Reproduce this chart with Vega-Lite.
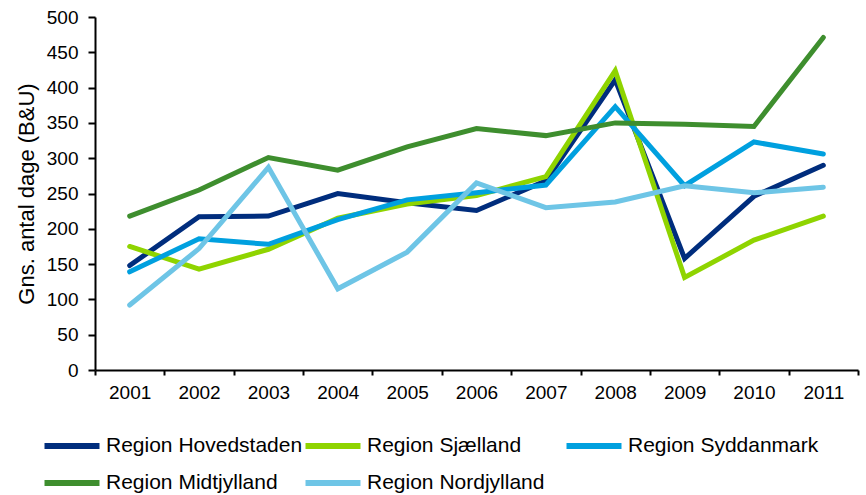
{
  "$schema": "https://vega.github.io/schema/vega-lite/v6.json",
  "width": 763,
  "height": 353,
  "autosize": "none",
  "padding": {"left": 95, "top": 17, "right": 8, "bottom": 125},
  "background": "white",
  "config": {
    "font": "Liberation Sans",
    "view": {"stroke": null}
  },
  "data": {
    "values": [
      {"year": "2001", "region": "Region Hovedstaden", "value": 148},
      {"year": "2002", "region": "Region Hovedstaden", "value": 217},
      {"year": "2003", "region": "Region Hovedstaden", "value": 218},
      {"year": "2004", "region": "Region Hovedstaden", "value": 250},
      {"year": "2005", "region": "Region Hovedstaden", "value": 237},
      {"year": "2006", "region": "Region Hovedstaden", "value": 226},
      {"year": "2007", "region": "Region Hovedstaden", "value": 268},
      {"year": "2008", "region": "Region Hovedstaden", "value": 411},
      {"year": "2009", "region": "Region Hovedstaden", "value": 158},
      {"year": "2010", "region": "Region Hovedstaden", "value": 246},
      {"year": "2011", "region": "Region Hovedstaden", "value": 290},
      {"year": "2001", "region": "Region Sjælland", "value": 175},
      {"year": "2002", "region": "Region Sjælland", "value": 143},
      {"year": "2003", "region": "Region Sjælland", "value": 171},
      {"year": "2004", "region": "Region Sjælland", "value": 215},
      {"year": "2005", "region": "Region Sjælland", "value": 235},
      {"year": "2006", "region": "Region Sjælland", "value": 247},
      {"year": "2007", "region": "Region Sjælland", "value": 274},
      {"year": "2008", "region": "Region Sjælland", "value": 424},
      {"year": "2009", "region": "Region Sjælland", "value": 131},
      {"year": "2010", "region": "Region Sjælland", "value": 184},
      {"year": "2011", "region": "Region Sjælland", "value": 218},
      {"year": "2001", "region": "Region Syddanmark", "value": 139},
      {"year": "2002", "region": "Region Syddanmark", "value": 186},
      {"year": "2003", "region": "Region Syddanmark", "value": 178},
      {"year": "2004", "region": "Region Syddanmark", "value": 213},
      {"year": "2005", "region": "Region Syddanmark", "value": 241},
      {"year": "2006", "region": "Region Syddanmark", "value": 251},
      {"year": "2007", "region": "Region Syddanmark", "value": 262},
      {"year": "2008", "region": "Region Syddanmark", "value": 373},
      {"year": "2009", "region": "Region Syddanmark", "value": 261},
      {"year": "2010", "region": "Region Syddanmark", "value": 323},
      {"year": "2011", "region": "Region Syddanmark", "value": 306},
      {"year": "2001", "region": "Region Midtjylland", "value": 218},
      {"year": "2002", "region": "Region Midtjylland", "value": 255},
      {"year": "2003", "region": "Region Midtjylland", "value": 301},
      {"year": "2004", "region": "Region Midtjylland", "value": 283},
      {"year": "2005", "region": "Region Midtjylland", "value": 316},
      {"year": "2006", "region": "Region Midtjylland", "value": 342},
      {"year": "2007", "region": "Region Midtjylland", "value": 332},
      {"year": "2008", "region": "Region Midtjylland", "value": 350},
      {"year": "2009", "region": "Region Midtjylland", "value": 348},
      {"year": "2010", "region": "Region Midtjylland", "value": 345},
      {"year": "2011", "region": "Region Midtjylland", "value": 471},
      {"year": "2001", "region": "Region Nordjylland", "value": 92},
      {"year": "2002", "region": "Region Nordjylland", "value": 172},
      {"year": "2003", "region": "Region Nordjylland", "value": 287},
      {"year": "2004", "region": "Region Nordjylland", "value": 115},
      {"year": "2005", "region": "Region Nordjylland", "value": 167},
      {"year": "2006", "region": "Region Nordjylland", "value": 265},
      {"year": "2007", "region": "Region Nordjylland", "value": 230},
      {"year": "2008", "region": "Region Nordjylland", "value": 238},
      {"year": "2009", "region": "Region Nordjylland", "value": 261},
      {"year": "2010", "region": "Region Nordjylland", "value": 251},
      {"year": "2011", "region": "Region Nordjylland", "value": 259}
    ]
  },
  "mark": {"type": "line", "strokeWidth": 5, "strokeCap": "round", "strokeJoin": "miter"},
  "encoding": {
    "x": {
      "field": "year",
      "type": "ordinal",
      "scale": {"type": "band", "paddingInner": 0, "paddingOuter": 0},
      "axis": {
        "title": null,
        "labelAngle": 0,
        "labelFontSize": 19,
        "labelColor": "black",
        "labelPadding": 8,
        "tickBand": "extent",
        "tickSize": 5,
        "tickColor": "black",
        "domainColor": "black",
        "domainWidth": 2,
        "tickWidth": 2,
        "grid": false
      }
    },
    "y": {
      "field": "value",
      "type": "quantitative",
      "scale": {"domain": [0, 500], "nice": false},
      "axis": {
        "title": "Gns. antal dage (B&U)",
        "titleFontSize": 22,
        "titleFontWeight": "normal",
        "titleColor": "black",
        "titlePadding": 8,
        "values": [0, 50, 100, 150, 200, 250, 300, 350, 400, 450, 500],
        "labelFontSize": 19,
        "labelColor": "black",
        "labelPadding": 10,
        "tickSize": 7,
        "tickColor": "black",
        "tickWidth": 2,
        "domainColor": "black",
        "domainWidth": 2,
        "grid": false
      }
    },
    "color": {
      "field": "region",
      "type": "nominal",
      "sort": ["Region Hovedstaden", "Region Sjælland", "Region Syddanmark", "Region Midtjylland", "Region Nordjylland"],
      "scale": {
        "domain": ["Region Hovedstaden", "Region Sjælland", "Region Syddanmark", "Region Midtjylland", "Region Nordjylland"],
        "range": ["#002D7D", "#8FD400", "#00A0DF", "#3E8E2E", "#6EC5E6"]
      },
      "legend": {
        "title": null,
        "orient": "none",
        "direction": "horizontal",
        "legendX": -40,
        "legendY": 412,
        "padding": 0,
        "columns": 3,
        "gridAlign": "all",
        "columnPadding": -10,
        "rowPadding": 8,
        "symbolType": "M-2,0H2",
        "symbolSize": 756,
        "symbolStrokeWidth": 6,
        "symbolOffset": 0,
        "labelOffset": 17,
        "labelFontSize": 21,
        "labelColor": "black",
        "labelLimit": 400
      }
    }
  }
}
